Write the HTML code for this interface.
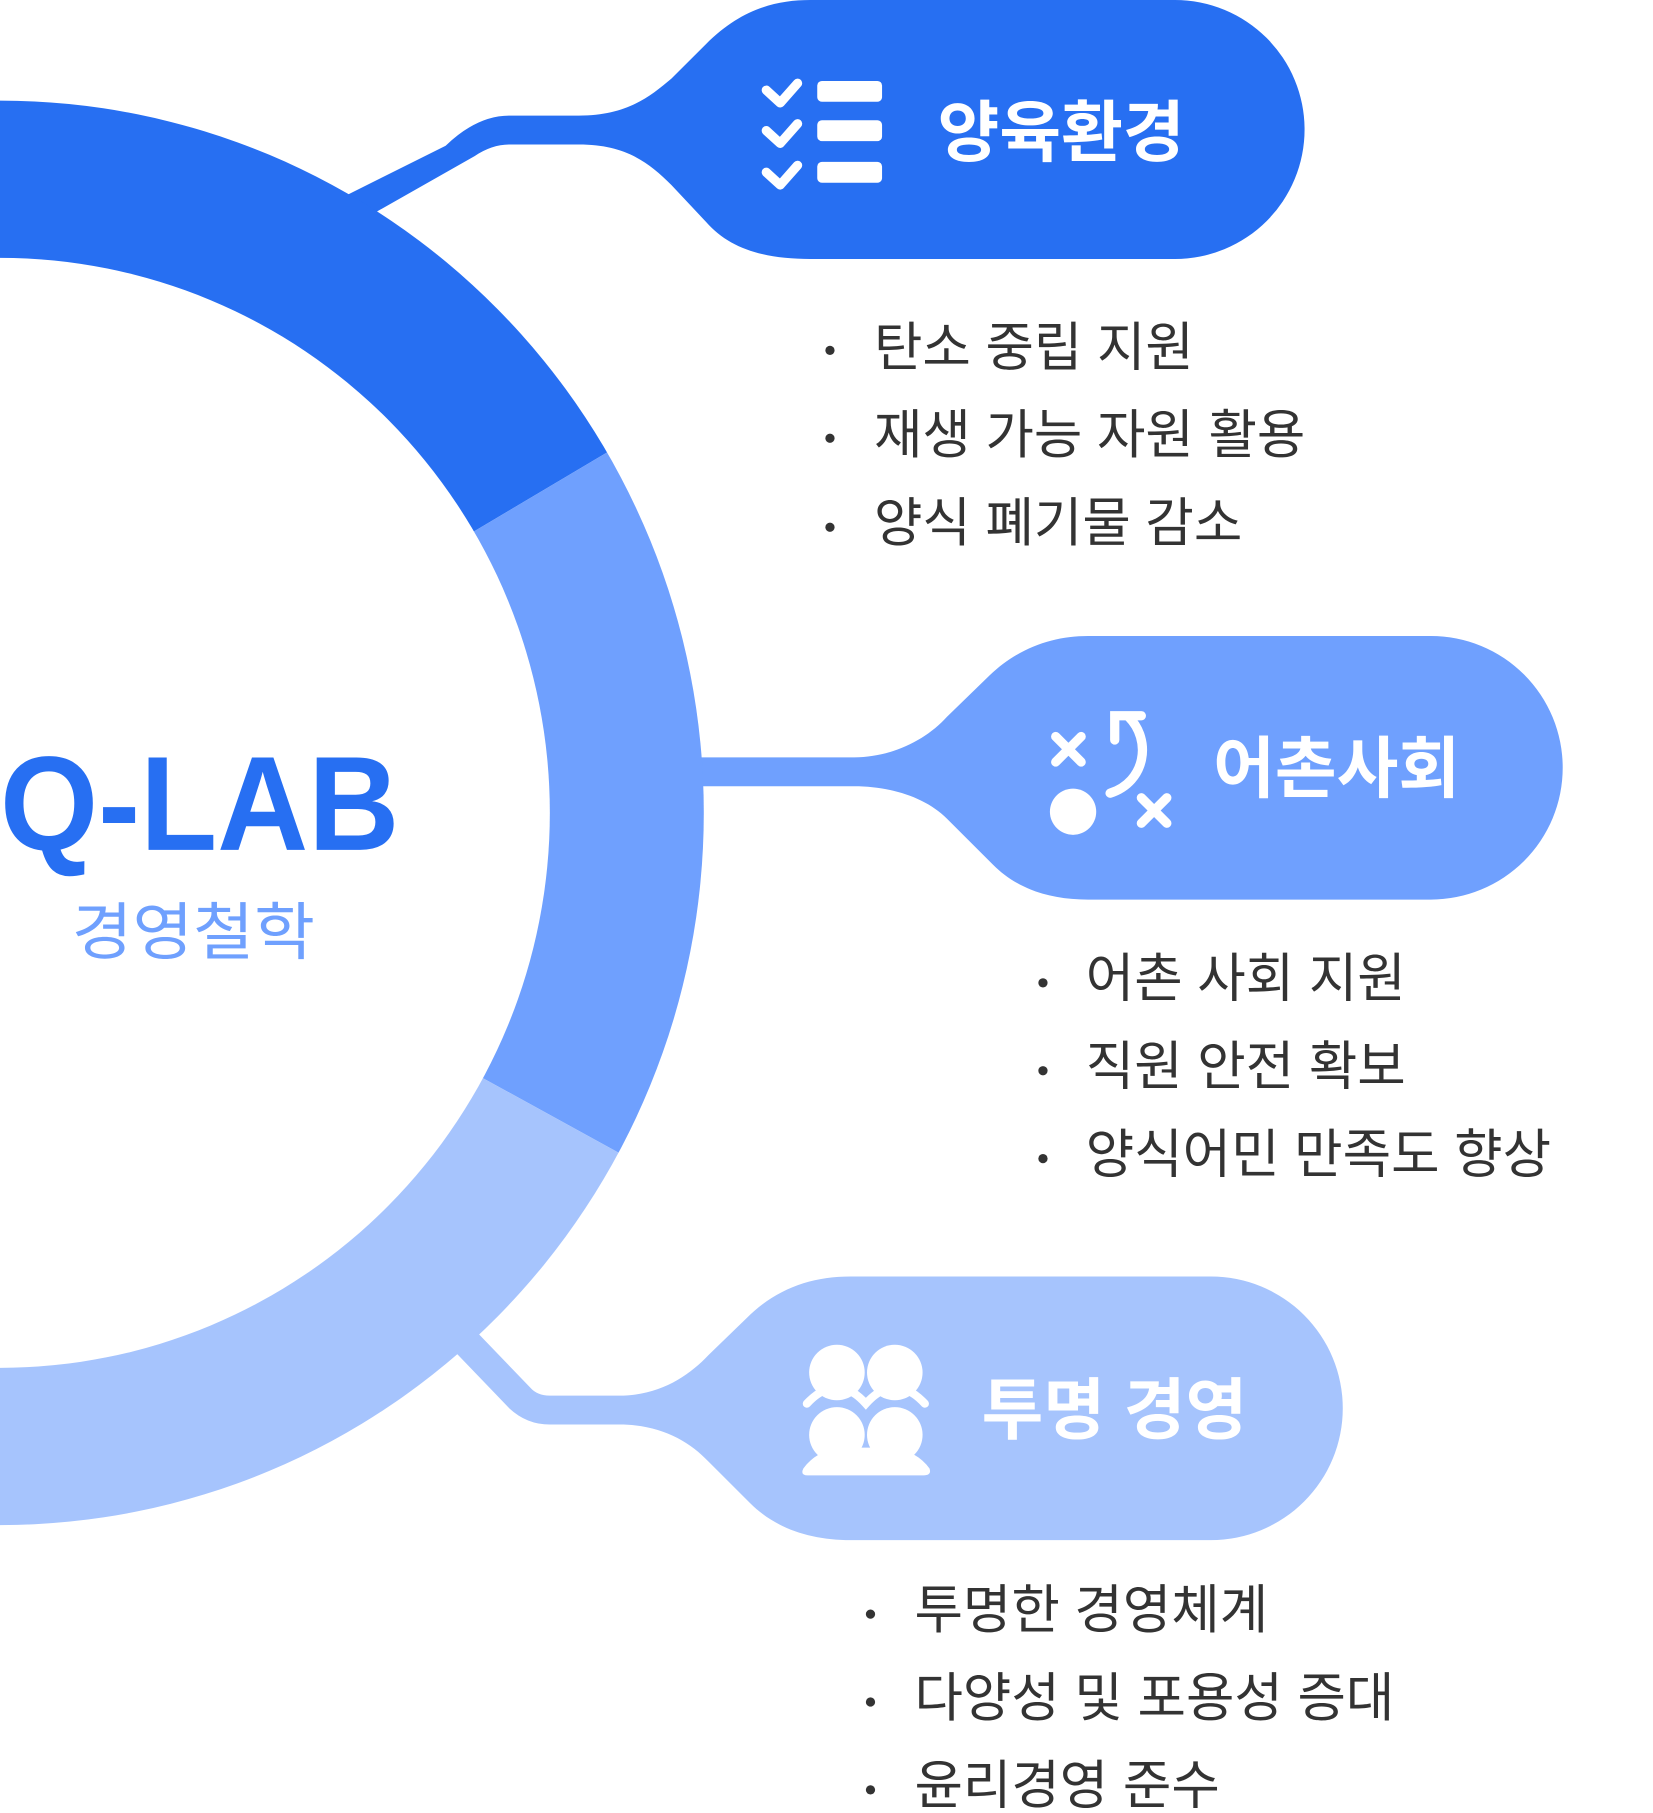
<!DOCTYPE html>
<html><head><meta charset="utf-8"><style>
html,body{margin:0;padding:0;background:#fff;}
svg{display:block;}
text{font-family:"Liberation Sans","Noto Sans CJK KR",sans-serif;}
</style></head><body>
<svg width="1653" height="1813" viewBox="0 0 1428 1568" preserveAspectRatio="none" xmlns="http://www.w3.org/2000/svg">
<defs>
<clipPath id="c1"><polygon points="0,703 0,-10 900,-10 900,168"/></clipPath>
<clipPath id="c2"><polygon points="0,703 900,168 900,1198"/></clipPath>
<clipPath id="c3"><polygon points="0,703 900,1198 900,1600 0,1600"/></clipPath>
</defs>
<path fill="#276ff2" d="M297 170 L385 126 Q412 100 440 100 L500 100 C540 100 560 85 580 68 L610 38 C640 8 670 0 700 0 L1015 0 A112 112 0 0 1 1015 224 L700 224 C660 224 630 215 610 192 L580 160 C560 140 540 125 500 125 L440 125 Q425 125 410 135 L322 185 Z"/>
<path fill="#6fa0fe" d="M590 655 L738 655 C770 655 800 640 818 620 L855 584 C880 560 910 550 940 550 L1236 550 A114 114 0 0 1 1236 778 L940 778 C905 778 878 768 858 748 L818 708 C800 690 770 680 738 680 L590 680 Z"/>
<path fill="#a6c4fd" d="M410 1150 L458 1200 Q464 1207 475 1207 L535 1207 C570 1207 595 1190 612 1172 L645 1140 C670 1115 700 1104 735 1104 L1046 1104 A114 114 0 0 1 1046 1332 L735 1332 C700 1332 670 1322 648 1300 L612 1264 C595 1246 570 1232 535 1232 L475 1232 Q455 1232 440 1218 L392 1168 Z"/>
<ellipse cx="0" cy="703" rx="608" ry="616" fill="#276ff2" clip-path="url(#c1)"/>
<ellipse cx="0" cy="703" rx="608" ry="616" fill="#6fa0fe" clip-path="url(#c2)"/>
<ellipse cx="0" cy="703" rx="608" ry="616" fill="#a6c4fd" clip-path="url(#c3)"/>
<ellipse cx="0" cy="703" rx="475" ry="480" fill="#fff"/>
<text x="0" y="735" font-size="116" font-weight="bold" fill="#276ff2" textLength="345" lengthAdjust="spacingAndGlyphs">Q-LAB</text>
<text x="62" y="825" font-size="54" fill="#6fa0fe" textLength="210" lengthAdjust="spacingAndGlyphs">경영철학</text>
<g stroke="#fff" stroke-width="8" stroke-linecap="round" stroke-linejoin="round" fill="none">
<polyline points="662,78 674,89 689,72"/>
<polyline points="662,113 674,124 689,107"/>
<polyline points="662,149 674,160 689,143"/>
</g>
<g fill="#fff">
<rect x="706" y="70" width="56" height="18" rx="4"/>
<rect x="706" y="104" width="56" height="18" rx="4"/>
<rect x="706" y="140" width="56" height="18" rx="4"/>
</g>
<text x="810" y="135" font-size="58" font-weight="bold" fill="#fff">양육환경</text>
<g stroke="#fff" stroke-width="8" stroke-linecap="round" fill="none">
<line x1="912" y1="637" x2="934" y2="659"/><line x1="934" y1="637" x2="912" y2="659"/>
<line x1="986" y1="690" x2="1008" y2="712"/><line x1="1008" y1="690" x2="986" y2="712"/>
<path d="M959 686 C990 676 995 640 975 620"/>
<polyline points="963,640 963,619 986,619"/>
</g>
<circle cx="927" cy="702" r="20" fill="#fff"/>
<text x="1048" y="685" font-size="58" font-weight="bold" fill="#fff">어촌사회</text>
<g fill="#fff">
<circle cx="723" cy="1187" r="24"/><circle cx="773" cy="1187" r="24"/>
<circle cx="723" cy="1241" r="24"/><circle cx="773" cy="1241" r="24"/>
<path d="M694 1270 Q705 1255 725 1252 L771 1252 Q792 1255 803 1270 Q805 1276 798 1276 L698 1276 Q691 1276 694 1270 Z"/>
</g>
<g stroke="#fff" stroke-width="7" stroke-linecap="round" fill="none">
<path d="M697 1214 Q723 1186 748 1214 Q773 1186 799 1214"/>
</g>
<text x="848" y="1240" font-size="58" font-weight="bold" fill="#fff">투명 경영</text>
<g font-size="45.5" fill="#333">
<text x="755" y="316">탄소 중립 지원</text>
<text x="755" y="392">재생 가능 자원 활용</text>
<text x="755" y="468">양식 폐기물 감소</text>
<text x="938" y="862">어촌 사회 지원</text>
<text x="938" y="938">직원 안전 확보</text>
<text x="938" y="1014">양식어민 만족도 향상</text>
<text x="790" y="1408">투명한 경영체계</text>
<text x="790" y="1484">다양성 및 포용성 증대</text>
<text x="790" y="1560">윤리경영 준수</text>
</g>
<g fill="#333">
<circle cx="717" cy="303" r="4"/><circle cx="717" cy="379" r="4"/><circle cx="717" cy="456" r="4"/>
<circle cx="901" cy="850" r="4"/><circle cx="901" cy="926" r="4"/><circle cx="901" cy="1002" r="4"/>
<circle cx="752" cy="1396" r="4"/><circle cx="752" cy="1472" r="4"/><circle cx="752" cy="1548" r="4"/>
</g>
</svg>
</body></html>
